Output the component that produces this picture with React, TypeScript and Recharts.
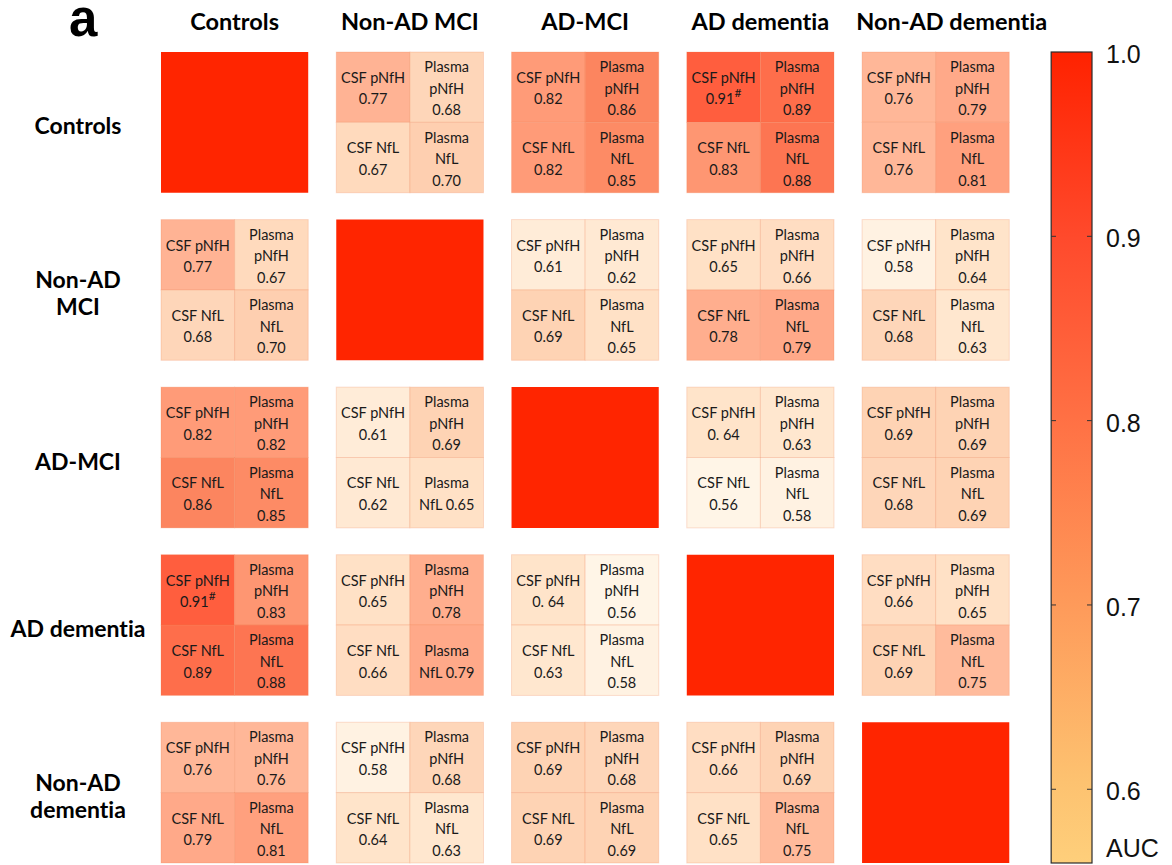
import React from 'react';
import { ComposedChart, XAxis, YAxis, ReferenceArea, Label, Scatter } from 'recharts';

const columns = ['Controls', 'Non-AD MCI', 'AD-MCI', 'AD dementia', 'Non-AD dementia'];
const rowLabels = [['Controls'], ['Non-AD', 'MCI'], ['AD-MCI'], ['AD dementia'], ['Non-AD', 'dementia']];
const markers = ['CSF pNfH', 'Plasma pNfH', 'CSF NfL', 'Plasma NfL'];
const aucTicks = [0.6, 0.7, 0.8, 0.9, 1.0];

// one row per group, one entry per compared group: [CSF pNfH, Plasma pNfH, CSF NfL, Plasma NfL]
const aucControls = [null, [0.77, 0.68, 0.67, 0.7], [0.82, 0.86, 0.82, 0.85], [0.91, 0.89, 0.83, 0.88], [0.76, 0.79, 0.76, 0.81]];
const aucNonAdMci = [[0.77, 0.67, 0.68, 0.7], null, [0.61, 0.62, 0.69, 0.65], [0.65, 0.66, 0.78, 0.79], [0.58, 0.64, 0.68, 0.63]];
const aucAdMci = [[0.82, 0.82, 0.86, 0.85], [0.61, 0.69, 0.62, 0.65], null, [0.64, 0.63, 0.56, 0.58], [0.69, 0.69, 0.68, 0.69]];
const aucAdDementia = [[0.91, 0.83, 0.89, 0.88], [0.65, 0.78, 0.66, 0.79], [0.64, 0.56, 0.63, 0.58], null, [0.66, 0.65, 0.69, 0.75]];
const aucNonAdDementia = [[0.76, 0.76, 0.79, 0.81], [0.58, 0.68, 0.64, 0.63], [0.69, 0.68, 0.69, 0.69], [0.66, 0.69, 0.65, 0.75], null];
const aucRows = [aucControls, aucNonAdMci, aucAdMci, aucAdDementia, aucNonAdDementia];

// row-col-marker keys with text quirks
const significant = ['0-3-0', '3-0-0'];
const compactLabel = ['2-1-3', '3-1-3'];
const spacedValue = ['2-3-0', '3-2-0'];

const W = 1172;
const H = 865;
const HALF = 0.42;
const X_MAX = 4.892;
const CB_LEFT = 4.659;
const CB_RIGHT_PX = 1092;
const FONT = 'Lato, "Open Sans", sans-serif';
const ARIAL = '"Liberation Sans", Arial, sans-serif';

const cellStops: [number, number[]][] = [
  [0.55, [255, 247, 234]],
  [0.6, [255, 239, 220]],
  [0.65, [255, 225, 198]],
  [0.7, [254, 207, 176]],
  [0.77, [255, 179, 148]],
  [0.82, [255, 155, 120]],
  [0.86, [252, 133, 95]],
  [0.91, [255, 94, 62]],
  [1.0, [255, 37, 0]],
];

function cellColor(v: number) {
  for (let i = 1; i < cellStops.length; i++) {
    const [v1, c1] = cellStops[i];
    const [v0, c0] = cellStops[i - 1];
    if (v <= v1) {
      const t = (v - v0) / (v1 - v0);
      const c = c0.map((a, k) => Math.round(a + (c1[k] - a) * t));
      return `rgb(${c.join(',')})`;
    }
  }
  return 'rgb(255,37,0)';
}

function quadLines(r: number, c: number, m: number, v: number) {
  const key = `${r}-${c}-${m}`;
  const val = spacedValue.includes(key) ? v.toFixed(2).replace('.', '. ') : v.toFixed(2);
  const [first, rest] = markers[m].split(' ');
  if (first === 'CSF') return [markers[m], val];
  if (compactLabel.includes(key)) return [first, `${rest} ${val}`];
  return [first, rest, val];
}

const cellCenters = aucRows.flatMap((row, r) => row.map((_, c) => ({ col: c, row: r })));
const aucAnchors = aucTicks.map((t) => ({ col: (CB_LEFT + X_MAX) / 2, auc: t }));

function Quad(props: any) {
  const { x, y, width, height, fill, lines, sup } = props;
  const cx = x + width / 2;
  const cy = y + height / 2;
  const lh = 21.5;
  const n = lines.length;
  return (
    <g>
      <rect x={x} y={y} width={width} height={height} fill={fill} stroke="rgba(235,120,70,0.22)" strokeWidth={1} />
      {lines.map((l: string, i: number) => (
        <text
          key={i}
          x={cx}
          y={cy + 1 + (i - (n - 1) / 2) * lh}
          textAnchor="middle"
          dominantBaseline="central"
          fontFamily={FONT}
          fontSize={14.5}
          fill="#1a1a1a"
        >
          {l}
          {sup && i === n - 1 ? (
            <tspan dy={-7} fontSize={12}>#</tspan>
          ) : null}
        </text>
      ))}
    </g>
  );
}

function ColorBar(props: any) {
  const { x, y, width, height } = props;
  return (
    <g>
      <defs>
        <linearGradient id="aucGrad" x1="0" y1="1" x2="0" y2="0">
          <stop offset="0%" stopColor="#FECF7B" />
          <stop offset="10%" stopColor="#FDC270" />
          <stop offset="32%" stopColor="#FE9A5A" />
          <stop offset="55%" stopColor="#FF7044" />
          <stop offset="77%" stopColor="#FF4A2C" />
          <stop offset="100%" stopColor="#FF2200" />
        </linearGradient>
      </defs>
      <rect x={x} y={y} width={width} height={height} fill="url(#aucGrad)" stroke="#2a2a2a" strokeWidth={1.2} />
    </g>
  );
}

function HeaderTick(props: any) {
  const { x, payload } = props;
  const shift = payload.value === 4 ? 16 : 0;
  return (
    <text x={x + shift} y={21} textAnchor="middle" dominantBaseline="central" fontFamily={FONT} fontWeight={700} fontSize={23.5} fill="#000">
      {columns[payload.value]}
    </text>
  );
}

function RowTick(props: any) {
  const { y, payload } = props;
  const lines = rowLabels[payload.value];
  return (
    <g>
      {lines.map((l, i) => (
        <text key={i} x={78} y={y + 3 + (i - (lines.length - 1) / 2) * 27} textAnchor="middle" dominantBaseline="central" fontFamily={FONT} fontWeight={700} fontSize={23} fill="#000">
          {l}
        </text>
      ))}
    </g>
  );
}

function AucTick(props: any) {
  const { y, payload } = props;
  const left = CB_RIGHT_PX - 41;
  return (
    <g>
      {payload.value < 1 ? (
        <>
          <line x1={left} x2={left + 5} y1={y} y2={y} stroke="#333" strokeWidth={1} />
          <line x1={CB_RIGHT_PX - 5} x2={CB_RIGHT_PX} y1={y} y2={y} stroke="#333" strokeWidth={1} />
        </>
      ) : null}
      <text x={CB_RIGHT_PX + 14} y={y + 2} dominantBaseline="central" fontFamily={ARIAL} fontSize={25} fill="#111">
        {payload.value.toFixed(1)}
      </text>
    </g>
  );
}

function AucLabel(props: any) {
  const { viewBox } = props;
  return (
    <text x={CB_RIGHT_PX + 14} y={viewBox.y + viewBox.height - 15} dominantBaseline="central" fontFamily={ARIAL} fontSize={25} fill="#111">
      AUC
    </text>
  );
}

export default function App() {
  const areas: React.ReactNode[] = [];
  aucRows.forEach((row, r) => {
    row.forEach((vals, c) => {
      if (!vals) {
        areas.push(
          <ReferenceArea key={`d${r}`} xAxisId="col" yAxisId="row" x1={c - HALF} x2={c + HALF} y1={r - HALF} y2={r + HALF} fill="#FF2500" fillOpacity={1} stroke="none" />
        );
        return;
      }
      vals.forEach((v, m) => {
        const x1 = c - HALF + (m % 2) * HALF;
        const y1 = r - HALF + Math.floor(m / 2) * HALF;
        const lines = quadLines(r, c, m, v);
        const sup = significant.includes(`${r}-${c}-${m}`);
        const fill = cellColor(v);
        areas.push(
          <ReferenceArea
            key={`${r}-${c}-${m}`}
            xAxisId="col"
            yAxisId="row"
            x1={x1}
            x2={x1 + HALF}
            y1={y1}
            y2={y1 + HALF}
            shape={(p: any) => <Quad {...p} fill={fill} lines={lines} sup={sup} />}
          />
        );
      });
    });
  });

  return (
    <div style={{ position: 'absolute', left: 0, top: 0, width: W, height: H, background: '#fff', fontVariantLigatures: 'none' }}>
      <div style={{ position: 'absolute', left: 69, top: 5, lineHeight: '28px', fontFamily: ARIAL, fontWeight: 700, fontSize: 51 }}>a</div>
      <ComposedChart width={W} height={H} margin={{ top: 0, right: 0, bottom: 2, left: 11 }}>
        <XAxis xAxisId="col" dataKey="col" type="number" orientation="top" domain={[-HALF, X_MAX]} allowDataOverflow ticks={[0, 1, 2, 3, 4]} height={52} axisLine={false} tickLine={false} tick={<HeaderTick />} interval={0} />
        <YAxis yAxisId="row" dataKey="row" type="number" orientation="left" domain={[-HALF, 4 + HALF]} allowDataOverflow reversed ticks={[0, 1, 2, 3, 4]} width={150} axisLine={false} tickLine={false} tick={<RowTick />} interval={0} />
        <YAxis yAxisId="auc" dataKey="auc" type="number" orientation="right" domain={[0.56, 1.0]} allowDataOverflow ticks={aucTicks} width={80} axisLine={false} tickLine={false} tick={<AucTick />} interval={0}>
          <Label content={<AucLabel />} />
        </YAxis>
        <Scatter data={cellCenters} xAxisId="col" yAxisId="row" dataKey="row" isAnimationActive={false} shape={() => <g />} />
        <Scatter data={aucAnchors} xAxisId="col" yAxisId="auc" dataKey="auc" isAnimationActive={false} shape={() => <g />} />
        {areas}
        <ReferenceArea xAxisId="col" yAxisId="auc" x1={CB_LEFT} x2={X_MAX} y1={0.56} y2={1.0} shape={(p: any) => <ColorBar {...p} />} />
      </ComposedChart>
    </div>
  );
}
